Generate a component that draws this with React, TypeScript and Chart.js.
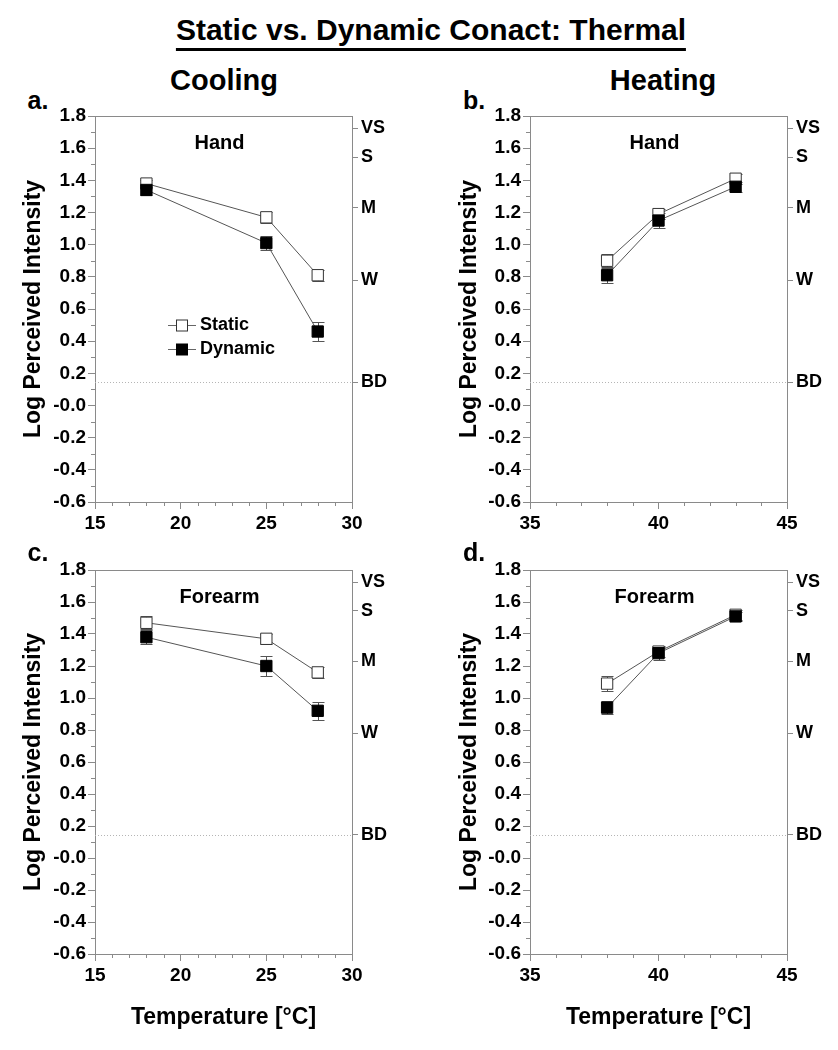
import React, { useEffect, useRef } from 'react';
import { Chart, registerables } from 'chart.js';
Chart.register(...registerables);

const FONT = "'Liberation Sans', Arial, Helvetica, sans-serif";

// ---------- data ----------
const seriesNames = ['Static', 'Dynamic'];
const coolTemps = [18, 25, 28];
const heatTemps = [38, 40, 43];

const handCoolStatic = [1.38, 1.17, 0.81];
const handCoolStaticErr = [0.02, 0.035, 0.035];
const handCoolDynamic = [1.34, 1.01, 0.46];
const handCoolDynamicErr = [0.03, 0.045, 0.06];

const handHeatStatic = [0.9, 1.19, 1.41];
const handHeatStaticErr = [0.045, 0.03, 0.03];
const handHeatDynamic = [0.81, 1.15, 1.36];
const handHeatDynamicErr = [0.05, 0.045, 0.03];

const foreCoolStatic = [1.47, 1.37, 1.16];
const foreCoolStaticErr = [0.04, 0.03, 0.035];
const foreCoolDynamic = [1.38, 1.2, 0.92];
const foreCoolDynamicErr = [0.045, 0.06, 0.055];

const foreHeatStatic = [1.09, 1.29, 1.52];
const foreHeatStaticErr = [0.045, 0.035, 0.03];
const foreHeatDynamic = [0.94, 1.28, 1.51];
const foreHeatDynamicErr = [0.04, 0.04, 0.03];

const yRange = [-0.6, 1.8];
const yMajorStep = 0.2;
const yMinorStep = 0.1;
const coolRange = [15, 30];
const heatRange = [35, 45];
const xMajorStep = 5;
const xMinorStep = 1;
const rightTickLabels = ['BD', 'W', 'M', 'S', 'VS'];
const rightTickValues = [0.146, 0.778, 1.23, 1.544, 1.724];

const yTitle = 'Log Perceived Intensity';
const xTitle = 'Temperature [°C]';
const mainTitle = 'Static vs. Dynamic Conact: Thermal';

type PanelDef = {
  key: string;
  letter: string;
  header?: string;
  region: string;
  xs: number[];
  xRange: number[];
  st: number[];
  stErr: number[];
  dy: number[];
  dyErr: number[];
  left: number;
  top: number;
  width: number;
  height: number;
  yAxisW: number;
  xAxisH: number;
  showXTitle: boolean;
  legend: boolean;
};

const panels: PanelDef[] = [
  { key: 'a', letter: 'a.', header: 'Cooling', region: 'Hand', xs: coolTemps, xRange: coolRange,
    st: handCoolStatic, stErr: handCoolStaticErr, dy: handCoolDynamic, dyErr: handCoolDynamicErr,
    left: 0, top: 100, width: 400, height: 440, yAxisW: 95, xAxisH: 38, showXTitle: false, legend: true },
  { key: 'b', letter: 'b.', header: 'Heating', region: 'Hand', xs: heatTemps, xRange: heatRange,
    st: handHeatStatic, stErr: handHeatStaticErr, dy: handHeatDynamic, dyErr: handHeatDynamicErr,
    left: 436, top: 100, width: 400, height: 440, yAxisW: 94, xAxisH: 38, showXTitle: false, legend: false },
  { key: 'c', letter: 'c.', region: 'Forearm', xs: coolTemps, xRange: coolRange,
    st: foreCoolStatic, stErr: foreCoolStaticErr, dy: foreCoolDynamic, dyErr: foreCoolDynamicErr,
    left: 0, top: 554, width: 400, height: 486, yAxisW: 95, xAxisH: 86, showXTitle: true, legend: false },
  { key: 'd', letter: 'd.', region: 'Forearm', xs: heatTemps, xRange: heatRange,
    st: foreHeatStatic, stErr: foreHeatStaticErr, dy: foreHeatDynamic, dyErr: foreHeatDynamicErr,
    left: 436, top: 554, width: 400, height: 486, yAxisW: 94, xAxisH: 86, showXTitle: true, legend: false },
];

const AXIS_GREY = '#8a8a8a';

const decorPlugin = {
  id: 'decor',
  beforeDatasetsDraw(chart: any, _args: any, opts: any) {
    const { ctx, chartArea, scales } = chart;
    const x = scales.x, y = scales.y, y2 = scales.y2;
    ctx.save();
    // top border
    ctx.strokeStyle = AXIS_GREY;
    ctx.lineWidth = 1;
    ctx.beginPath();
    ctx.moveTo(chartArea.left, chartArea.top + 0.5);
    ctx.lineTo(chartArea.right, chartArea.top + 0.5);
    ctx.stroke();
    // minor ticks y
    ctx.beginPath();
    const nY = Math.round((yRange[1] - yRange[0]) / yMinorStep);
    for (let i = 0; i <= nY; i++) {
      if (i % 2 === 0) continue;
      const v = yRange[0] + i * yMinorStep;
      const py = Math.round(y.getPixelForValue(v)) + 0.5;
      ctx.moveTo(chartArea.left - 4, py);
      ctx.lineTo(chartArea.left, py);
    }
    // minor ticks x
    const xr = x.options.min, xm = x.options.max;
    const nX = Math.round((xm - xr) / xMinorStep);
    for (let i = 0; i <= nX; i++) {
      const v = xr + i * xMinorStep;
      if ((v - xr) % xMajorStep === 0) continue;
      const px = Math.round(x.getPixelForValue(v)) + 0.5;
      ctx.moveTo(px, chartArea.bottom);
      ctx.lineTo(px, chartArea.bottom + 4);
    }
    ctx.stroke();
    // BD dotted line
    const bdY = Math.round(y2.getPixelForValue(rightTickValues[0])) + 0.5;
    ctx.strokeStyle = '#b5b5b5';
    ctx.setLineDash([1, 2]);
    ctx.beginPath();
    ctx.moveTo(chartArea.left, bdY);
    ctx.lineTo(chartArea.right, bdY);
    ctx.stroke();
    ctx.setLineDash([]);
    // error bars
    ctx.strokeStyle = '#555';
    ctx.lineWidth = 1;
    chart.data.datasets.forEach((ds: any, di: number) => {
      const errs = opts.errors[di];
      ds.data.forEach((p: any, i: number) => {
        const px = Math.round(x.getPixelForValue(p.x)) + 0.5;
        const t = Math.round(y.getPixelForValue(p.y + errs[i])) + 0.5;
        const b = Math.round(y.getPixelForValue(p.y - errs[i])) + 0.5;
        ctx.beginPath();
        ctx.moveTo(px, t); ctx.lineTo(px, b);
        ctx.moveTo(px - 6, t); ctx.lineTo(px + 6, t);
        ctx.moveTo(px - 6, b); ctx.lineTo(px + 6, b);
        ctx.stroke();
      });
    });
    // region label
    ctx.fillStyle = '#000';
    ctx.font = `bold 20px ${FONT}`;
    ctx.textAlign = 'center';
    ctx.textBaseline = 'middle';
    ctx.fillText(opts.region, (chartArea.left + chartArea.right) / 2 - 4, chartArea.top + 27);
    ctx.restore();
  },
  afterDatasetsDraw(chart: any, _args: any, opts: any) {
    if (!opts.legend) return;
    const { ctx, chartArea } = chart;
    ctx.save();
    const lx = chartArea.left + 73;
    const ly = chartArea.top + 209;
    chart.data.datasets.forEach((ds: any, i: number) => {
      const yy = Math.round(ly + i * 24) + 0.5;
      ctx.strokeStyle = '#666';
      ctx.lineWidth = 1;
      ctx.beginPath();
      ctx.moveTo(lx, yy); ctx.lineTo(lx + 28, yy);
      ctx.stroke();
      ctx.fillStyle = ds.pointBackgroundColor;
      ctx.strokeStyle = ds.pointBorderColor;
      ctx.fillRect(lx + 8.5, yy - 5.5, 11, 11);
      ctx.strokeRect(lx + 8.5, yy - 5.5, 11, 11);
      ctx.fillStyle = '#000';
      ctx.font = `bold 18px ${FONT}`;
      ctx.textAlign = 'left';
      ctx.textBaseline = 'middle';
      ctx.fillText(ds.label, lx + 32, yy);
    });
    ctx.restore();
  },
};

function Panel({ p }: { p: PanelDef }) {
  const ref = useRef<HTMLCanvasElement>(null);
  useEffect(() => {
    if (!ref.current) return;
    const mk = (vals: number[]) => p.xs.map((xv, i) => ({ x: xv, y: vals[i] }));
    const rightW = p.width - (p.yAxisW + 257);
    const chart = new Chart(ref.current, {
      type: 'line',
      data: {
        datasets: [
          { label: seriesNames[0], data: mk(p.st), order: 1, borderColor: '#555', borderWidth: 1,
            pointStyle: 'rect', pointRadius: 8, pointBackgroundColor: '#ffffff', pointBorderColor: '#333', pointBorderWidth: 1 },
          { label: seriesNames[1], data: mk(p.dy), order: 0, borderColor: '#555', borderWidth: 1,
            pointStyle: 'rect', pointRadius: 8, pointBackgroundColor: '#000000', pointBorderColor: '#000', pointBorderWidth: 1 },
        ],
      },
      options: {
        animation: false,
        responsive: false,
        layout: { padding: { top: 16, left: 0, right: 0, bottom: 0 } },
        plugins: {
          legend: { display: false },
          tooltip: { enabled: false },
          decor: { errors: [p.stErr, p.dyErr], region: p.region, legend: p.legend },
        } as any,
        scales: {
          x: {
            type: 'linear', min: p.xRange[0], max: p.xRange[1],
            ticks: { stepSize: xMajorStep, color: '#000', font: { family: FONT, size: 19, weight: 'bold' }, padding: 3,
              callback: (v: any) => String(v) },
            grid: { drawOnChartArea: false, drawTicks: true, tickLength: 7, color: AXIS_GREY },
            border: { color: AXIS_GREY },
            title: { display: p.showXTitle, text: xTitle, color: '#000', font: { family: FONT, size: 23, weight: 'bold' }, padding: { top: 0, bottom: 9 } },
            afterFit: (s: any) => { s.height = p.xAxisH; },
          },
          y: {
            type: 'linear', position: 'left', min: yRange[0], max: yRange[1],
            ticks: { stepSize: yMajorStep, color: '#000', font: { family: FONT, size: 19, weight: 'bold' }, padding: 2,
              callback: (v: any) => (Math.abs(v) < 1e-9 ? '-0.0' : Number(v).toFixed(1)) },
            grid: { drawOnChartArea: false, drawTicks: true, tickLength: 7, color: AXIS_GREY },
            border: { color: AXIS_GREY },
            title: { display: true, text: yTitle, color: '#000', font: { family: FONT, size: 23, weight: 'bold' }, padding: { top: 20, bottom: 0 } },
            afterFit: (s: any) => { s.width = p.yAxisW; },
          },
          y2: {
            type: 'linear', position: 'right', min: yRange[0], max: yRange[1],
            afterBuildTicks: (s: any) => { s.ticks = rightTickValues.map((v) => ({ value: v })); },
            ticks: { color: '#000', font: { family: FONT, size: 18, weight: 'bold' }, padding: 3,
              callback: (_v: any, i: number) => rightTickLabels[i] },
            grid: { drawOnChartArea: false, drawTicks: true, tickLength: 6, color: AXIS_GREY },
            border: { color: AXIS_GREY },
            afterFit: (s: any) => { s.width = rightW; },
          },
        },
      } as any,
      plugins: [decorPlugin],
    });
    return () => chart.destroy();
  }, []);
  return (
    <canvas
      ref={ref}
      width={p.width}
      height={p.height}
      style={{ position: 'absolute', left: p.left, top: p.top, width: p.width, height: p.height }}
    />
  );
}

const txt = (s: string, x: number, y: number, size: number, extra: any = {}) => (
  <div
    style={{
      position: 'absolute', left: x, top: y, transform: 'translate(-50%, -50%)',
      fontFamily: FONT, fontWeight: 'bold', fontSize: size, color: '#000', whiteSpace: 'nowrap', lineHeight: 1, ...extra,
    }}
  >
    {s}
  </div>
);

export default function App() {
  return (
    <div style={{ position: 'absolute', left: 0, top: 0, width: 838, height: 1050, background: '#fff', overflow: 'hidden' }}>
      <div
        style={{
          position: 'absolute', left: 431, top: 14, transform: 'translateX(-50%)', fontFamily: FONT, fontWeight: 'bold',
          fontSize: 30, lineHeight: 1.05, whiteSpace: 'nowrap', borderBottom: '3px solid #000', paddingBottom: 2,
        }}
      >
        {mainTitle}
      </div>
      {txt(panels[0].header as string, 224, 80, 29)}
      {txt(panels[1].header as string, 663, 80, 29)}
      {panels.map((p) => (
        <React.Fragment key={p.key}>
          {txt(p.letter, p.left + 38, p.top + (p.top < 300 ? 0 : -2), 25)}
          <Panel p={p} />
        </React.Fragment>
      ))}
    </div>
  );
}
